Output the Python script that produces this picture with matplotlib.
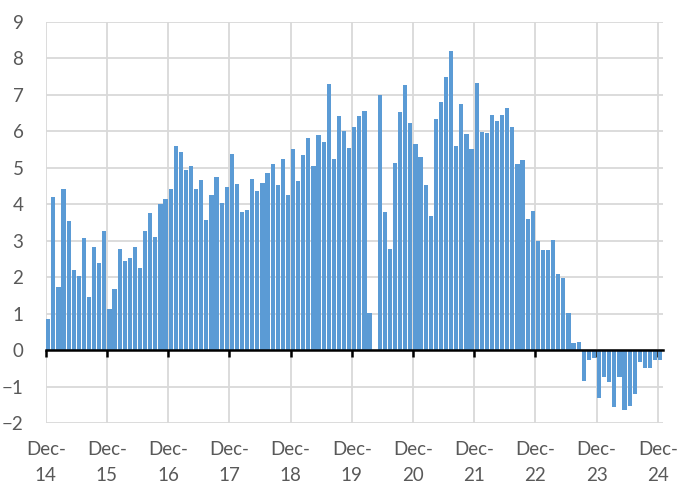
import numpy as np
import matplotlib
matplotlib.use('Agg')
import matplotlib.pyplot as plt

# monthly values Dec-14 .. Dec-24 (Jan-20 missing)
values = [
    0.86, 4.19, 1.74, 4.42, 3.54, 2.19, 2.04, 3.08, 1.47, 2.82, 2.39, 3.26,
    1.13, 1.69, 2.78, 2.45, 2.53, 2.83, 2.25, 3.27, 3.76, 3.12, 4.01, 4.15,
    4.42, 5.60, 5.44, 4.93, 5.04, 4.41, 4.68, 3.56, 4.27, 4.74, 4.03, 4.48,
    5.37, 4.56, 3.78, 3.84, 4.69, 4.37, 4.59, 4.86, 5.11, 4.52, 5.25, 4.26,
    5.51, 4.64, 5.36, 5.82, 5.05, 5.90, 5.70, 7.30, 5.24, 6.42, 6.01, 5.55,
    6.11, 6.43, 6.56, 1.02, np.nan, 6.99, 3.78, 2.78, 5.14, 6.54, 7.27, 6.24,
    5.66, 5.29, 4.54, 3.67, 6.35, 6.81, 7.49, 8.20, 5.61, 6.75, 5.92, 5.52,
    7.33, 5.98, 5.96, 6.44, 6.29, 6.44, 6.65, 6.12, 5.11, 5.21, 3.59, 3.81,
    2.99, 2.76, 2.76, 3.03, 2.09, 1.99, 1.01, 0.19, 0.23, -0.85, -0.26, -0.20,
    -1.30, -0.72, -0.88, -1.56, -0.72, -1.63, -1.52, -1.19, -0.31, -0.48, -0.48, -0.27,
    -0.27,
]
year_labels = ['Dec-\n14', 'Dec-\n15', 'Dec-\n16', 'Dec-\n17', 'Dec-\n18', 'Dec-\n19',
               'Dec-\n20', 'Dec-\n21', 'Dec-\n22', 'Dec-\n23', 'Dec-\n24']
y_ticks = list(range(-2, 10))

plt.rcParams['font.family'] = ['Lato', 'DejaVu Sans']

fig = plt.figure(figsize=(6.81, 4.86), dpi=100)
ax = fig.add_axes([45.7 / 681, 1 - 423.3 / 486, (662.8 - 45.7) / 681, (423.3 - 22) / 486])

x = np.arange(len(values)) + 0.5
ax.bar(x, values, width=0.82, color='#5B9BD5', zorder=2)

ax.set_xlim(0, len(values))
ax.set_ylim(-2, 9)
ax.set_yticks(y_ticks)
tick_pos = np.arange(len(year_labels)) * 12
ax.set_xticks(tick_pos)

ax.grid(True, color='#D9D9D9', linewidth=1.3, zorder=0)
for side in ['top', 'right', 'left']:
    ax.spines[side].set_visible(False)
ax.spines['bottom'].set_position(('data', 0))
ax.spines['bottom'].set_linewidth(1.8)
ax.spines['bottom'].set_zorder(3)
ax.tick_params(axis='x', direction='out', length=5, width=1.8, color='black',
               labelbottom=False)
ax.tick_params(axis='y', length=0, pad=16, labelsize=13.5, labelcolor='#595959')

sec = ax.secondary_xaxis(0.0)
sec.set_xticks(tick_pos)
sec.set_xticklabels(year_labels, linespacing=1.6)
sec.tick_params(length=0, pad=13, labelsize=13.5, labelcolor='#595959')
sec.spines['bottom'].set_visible(False)

fig.savefig('out.png', dpi=100)
